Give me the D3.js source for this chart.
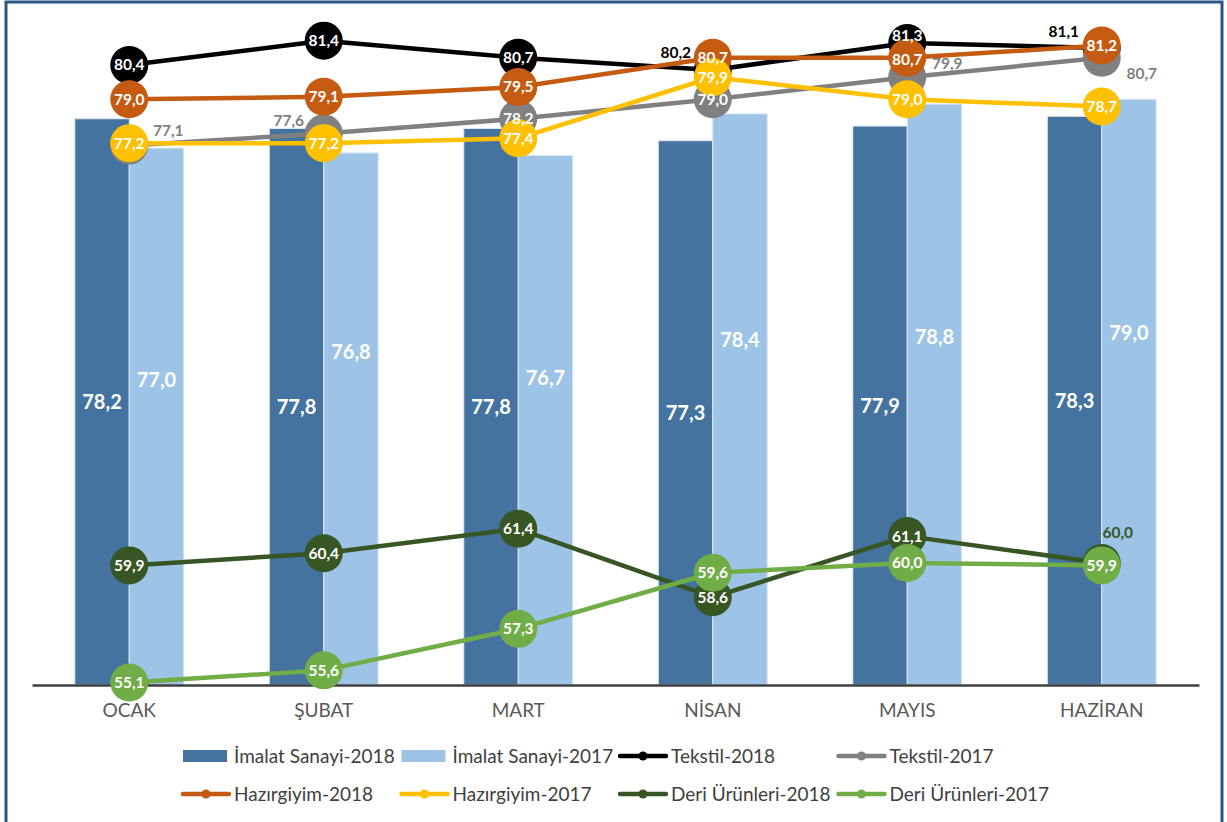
<!DOCTYPE html>
<html><head><meta charset="utf-8">
<script src="https://cdn.jsdelivr.net/npm/d3@7"></script>
<style>body{margin:0;background:#fff;}svg{display:block;}</style>
</head><body>
<svg id="c" width="1227" height="822"></svg>
<script>
const months = ["OCAK","ŞUBAT","MART","NİSAN","MAYIS","HAZİRAN"];
const imalat2018 = [78.2,77.8,77.8,77.3,77.9,78.3];
const imalat2017 = [77.0,76.8,76.7,78.4,78.8,79.0];
const tekstil2018 = [80.4,81.4,80.7,80.2,81.3,81.1];
const tekstil2017 = [77.1,77.6,78.2,79.0,79.9,80.7];
const hazir2018 = [79.0,79.1,79.5,80.7,80.7,81.2];
const hazir2017 = [77.2,77.2,77.4,79.9,79.0,78.7];
const deri2018 = [59.9,60.4,61.4,58.6,61.1,60.0];
const deri2017 = [55.1,55.6,57.3,59.6,60.0,59.9];
const yDomain = [55, 82];

// label placement styles (pixel nudges)
const light2017LabelDy = [-37,-67,-42,-59,-58,-59];

const svg = d3.select("#c");
const font = "Lato, 'Open Sans', sans-serif";

svg.append("rect").attr("x",6).attr("y",2).attr("width",1216).attr("height",830)
  .attr("fill","none").attr("stroke","#2a5686").attr("stroke-width",3);

const x = d3.scaleBand().domain(months).range([32,1199]).paddingInner(0.44).paddingOuter(0.22);
const y = d3.scaleLinear().domain(yDomain).range([685,26]);
const xs = d3.scaleBand().domain(["a","b"]).range([0,x.bandwidth()]).padding(0);

const g = svg.append("g");
const barSeries = [{vals:imalat2018,key:"a",color:"#44739f"},{vals:imalat2017,key:"b",color:"#9dc3e6"}];
barSeries.forEach(s=>{
  g.selectAll(null).data(s.vals).enter().append("rect")
    .attr("x",(d,i)=>x(months[i])+xs(s.key))
    .attr("y",d=>y(d)).attr("width",xs.bandwidth()).attr("height",d=>y(yDomain[0])-y(d))
    .attr("fill",s.color).attr("stroke","#dbe7f3").attr("stroke-width",1);
});

const ax = svg.append("g").attr("transform","translate(0,685)")
  .call(d3.axisBottom(x).tickSize(0).tickPadding(19));
ax.select(".domain").attr("stroke","#404040").attr("stroke-width",2.5);
ax.selectAll("text").attr("font-family",font).attr("font-size",19).attr("fill","#595959");

const cx = i => x(months[i]) + x.bandwidth()/2;
const lines = [
  {name:"Tekstil-2018",vals:tekstil2018,color:"#000000",out:{3:[-37,-17,"#000"],4:[0,-8,"#fff"],5:[-38,-16,"#000"]}},
  {name:"Tekstil-2017",vals:tekstil2017,color:"#808080",out:{0:[39,-15,"#808080"],1:[-35,-13,"#808080"],4:[40,-14,"#808080"],5:[40,16,"#808080"]}},
  {name:"Hazırgiyim-2018",vals:hazir2018,color:"#c55a11",out:{4:[0,2,"#fff"]}},
  {name:"Hazırgiyim-2017",vals:hazir2017,color:"#ffc000",out:{}},
  {name:"Deri Ürünleri-2018",vals:deri2018,color:"#375623",out:{5:[16,-30,"#375623"]}},
  {name:"Deri Ürünleri-2017",vals:deri2017,color:"#70ad47",out:{}}
];
const line = d3.line().x((d,i)=>cx(i)).y(d=>y(d));
lines.forEach(s=>{
  const lg = svg.append("g");
  lg.append("path").datum(s.vals).attr("d",line).attr("fill","none")
    .attr("stroke",s.color).attr("stroke-width",4.5).attr("stroke-linejoin","round");
  lg.selectAll(null).data(s.vals).enter().append("circle")
    .attr("cx",(d,i)=>cx(i)).attr("cy",d=>y(d)).attr("r",19).attr("fill",s.color);
});

// all data labels on top
const fmt = d=>d.toFixed(1).replace(".",",");
const lab = svg.append("g");
lab.selectAll(null).data(imalat2018).enter().append("text")
  .attr("x",(d,i)=>x(months[i])+xs("a")+xs.bandwidth()/2)
  .attr("y",d=>(y(d)+y(yDomain[0]))/2).attr("dy","0.35em")
  .attr("text-anchor","middle").attr("fill","#fff").attr("font-family",font)
  .attr("font-weight","bold").attr("font-size",20).text(fmt);
lab.selectAll(null).data(imalat2017).enter().append("text")
  .attr("x",(d,i)=>x(months[i])+xs("b")+xs.bandwidth()/2)
  .attr("y",(d,i)=>(y(d)+y(yDomain[0]))/2+light2017LabelDy[i]).attr("dy","0.35em")
  .attr("text-anchor","middle").attr("fill","#fff").attr("font-family",font)
  .attr("font-weight","bold").attr("font-size",20).text(fmt);
lines.forEach(s=>{
  lab.selectAll(null).data(s.vals).enter().append("text")
    .attr("x",(d,i)=>cx(i)+(s.out[i]?s.out[i][0]:0))
    .attr("y",(d,i)=>y(d)+(s.out[i]?s.out[i][1]:0)).attr("dy","0.35em")
    .attr("text-anchor","middle").attr("font-family",font).attr("font-weight","bold")
    .attr("font-size",15.5)
    .attr("fill",(d,i)=>s.out[i]?s.out[i][2]:"#fff")
    .text(fmt);
});

// legend
const legendItems = [
  {name:"İmalat Sanayi-2018",color:"#44739f",type:"bar"},
  {name:"İmalat Sanayi-2017",color:"#9dc3e6",type:"bar"},
  {name:"Tekstil-2018",color:"#000000",type:"line"},
  {name:"Tekstil-2017",color:"#808080",type:"line"},
  {name:"Hazırgiyim-2018",color:"#c55a11",type:"line"},
  {name:"Hazırgiyim-2017",color:"#ffc000",type:"line"},
  {name:"Deri Ürünleri-2018",color:"#375623",type:"line"},
  {name:"Deri Ürünleri-2017",color:"#70ad47",type:"line"}
];
const leg = svg.append("g");
legendItems.forEach((it,k)=>{
  const col = k%4, row = Math.floor(k/4);
  const lx = 182 + col*218.5, ly = 756 + row*38;
  const gg = leg.append("g").attr("transform",`translate(${lx},${ly})`);
  if(it.type==="bar"){
    gg.append("rect").attr("x",1).attr("y",-6).attr("width",44).attr("height",12).attr("fill",it.color);
  } else {
    gg.append("line").attr("x1",1).attr("x2",47).attr("y1",0).attr("y2",0)
      .attr("stroke",it.color).attr("stroke-width",4.5).attr("stroke-linecap","round");
    gg.append("circle").attr("cx",24).attr("cy",0).attr("r",4.5).attr("fill",it.color);
  }
  gg.append("text").attr("x",52).attr("y",0).attr("dy","0.35em")
    .attr("font-family",font).attr("font-size",19).attr("fill","#404040").text(it.name);
});
</script>
</body></html>
